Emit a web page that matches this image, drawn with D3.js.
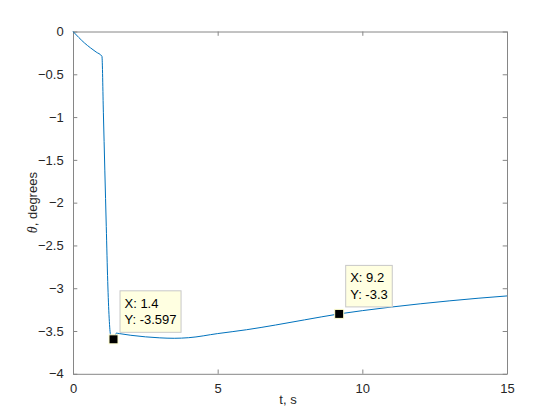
<!DOCTYPE html>
<html>
<head>
<meta charset="utf-8">
<script src="https://cdn.jsdelivr.net/npm/d3@7"></script>
<style>
  body { margin: 0; background: #fff; }
  text { font-family: "Liberation Sans", Arial, sans-serif; }
</style>
</head>
<body>
<div id="chart"></div>
<script>
// time samples (s) and angle (degrees)
const tValues = [0, 0.2, 0.4, 0.6, 0.8, 1.0, 1.05, 1.1, 1.15, 1.2, 1.25, 1.3, 1.4, 1.5, 1.6, 2.0, 2.5, 3.0, 3.5, 4.0, 5.0, 6.0, 7.0, 8.0, 9.2, 10, 11, 12, 13, 14, 15];
const thetaValues = [0, -0.07, -0.135, -0.19, -0.24, -0.29, -0.95, -1.62, -2.28, -2.92, -3.35, -3.55, -3.597, -3.525, -3.53, -3.55, -3.568, -3.58, -3.585, -3.578, -3.53, -3.485, -3.43, -3.37, -3.3, -3.262, -3.22, -3.182, -3.148, -3.117, -3.09];

const xTicks = [0, 5, 10, 15];
const yTicks = [0, -0.5, -1, -1.5, -2, -2.5, -3, -3.5, -4];

// data tips shown on the curve
const tipX = [1.4, 9.2];
const tipY = [-3.597, -3.3];

const W = 560, H = 420;
const mLeft = 73, mRight = 507, mTop = 31.5, mBottom = 373.8;
const axisCol = '#868686', textCol = '#262626';

const svg = d3.select('#chart').append('svg')
    .attr('width', W)
    .attr('height', H);

const x = d3.scaleLinear().domain([0, 15]).range([mLeft, mRight]);
const y = d3.scaleLinear().domain([-4, 0]).range([mBottom, mTop]);

//AXES (box on, ticks pointing inward on all four sides)
const tickLen = 4.3;
const axes = [
    d3.axisBottom(x).tickValues(xTicks).tickSizeInner(-tickLen).tickSizeOuter(0).tickPadding(tickLen + 6),
    d3.axisTop(x).tickValues(xTicks).tickSizeInner(-tickLen).tickSizeOuter(0).tickFormat(''),
    d3.axisLeft(y).tickValues(yTicks).tickSizeInner(-tickLen).tickSizeOuter(0).tickPadding(tickLen + 5).tickFormat(d3.format('')),
    d3.axisRight(y).tickValues(yTicks).tickSizeInner(-tickLen).tickSizeOuter(0).tickFormat('')
];
const shifts = [`0,${mBottom}`, `0,${mTop}`, `${mLeft},0`, `${mRight},0`];

axes.forEach((ax, i) => {
    const g = svg.append('g')
        .attr('transform', `translate(${shifts[i]})`)
        .call(ax);
    g.select('.domain').attr('stroke', axisCol).attr('stroke-width', 1);
    g.selectAll('.tick line').attr('stroke', axisCol);
    g.selectAll('.tick text')
        .attr('fill', textCol)
        .style('font-size', '13px');
});

//CURVE
const line = d3.line()
    .x((d, i) => x(tValues[i]))
    .y(d => y(d))
    .curve(d3.curveMonotoneX);

svg.append('path')
    .datum(thetaValues)
    .attr('d', line)
    .attr('fill', 'none')
    .attr('stroke', '#0072BD')
    .attr('stroke-width', 1);

//AXIS LABELS
svg.append('text')
    .attr('x', (mLeft + mRight) / 2 - 2)
    .attr('y', 404)
    .attr('text-anchor', 'middle')
    .attr('fill', textCol)
    .style('font-size', '13px')
    .text('t, s');

const ylab = svg.append('text')
    .attr('transform', `translate(37,${(mTop + mBottom) / 2}) rotate(-90)`)
    .attr('text-anchor', 'middle')
    .attr('fill', textCol)
    .style('font-size', '13px');
ylab.append('tspan').style('font-family', '"Liberation Serif", "Times New Roman", serif').style('font-style', 'italic').style('font-size', '14px').text('θ');
ylab.append('tspan').text(', degrees');

//DATA TIPS
tipX.forEach((tx, i) => {
    const px = x(tx), py = y(tipY[i]);
    const g = svg.append('g');
    const box = g.append('rect')
        .attr('fill', '#ffffe1')
        .attr('stroke', '#c8c8c8')
        .attr('stroke-width', 1);
    const t1 = g.append('text')
        .attr('x', px + 11)
        .attr('y', py - 31.5)
        .attr('fill', '#000')
        .style('font-size', '13px')
        .text(`X: ${tx}`);
    const t2 = g.append('text')
        .attr('x', px + 11)
        .attr('y', py - 15)
        .attr('fill', '#000')
        .style('font-size', '13px')
        .text(`Y: ${tipY[i]}`);
    const w = Math.max(t1.node().getComputedTextLength(), t2.node().getComputedTextLength()) + 9;
    box.attr('x', px + 6.5)
        .attr('y', py - 48.5)
        .attr('width', w)
        .attr('height', 41.5);

    svg.append('rect')
        .attr('x', px - 4.5)
        .attr('y', py - 4.5)
        .attr('width', 9)
        .attr('height', 9)
        .attr('fill', '#000')
        .attr('stroke', '#ffffd0')
        .attr('stroke-width', 1);
});
</script>
</body>
</html>
